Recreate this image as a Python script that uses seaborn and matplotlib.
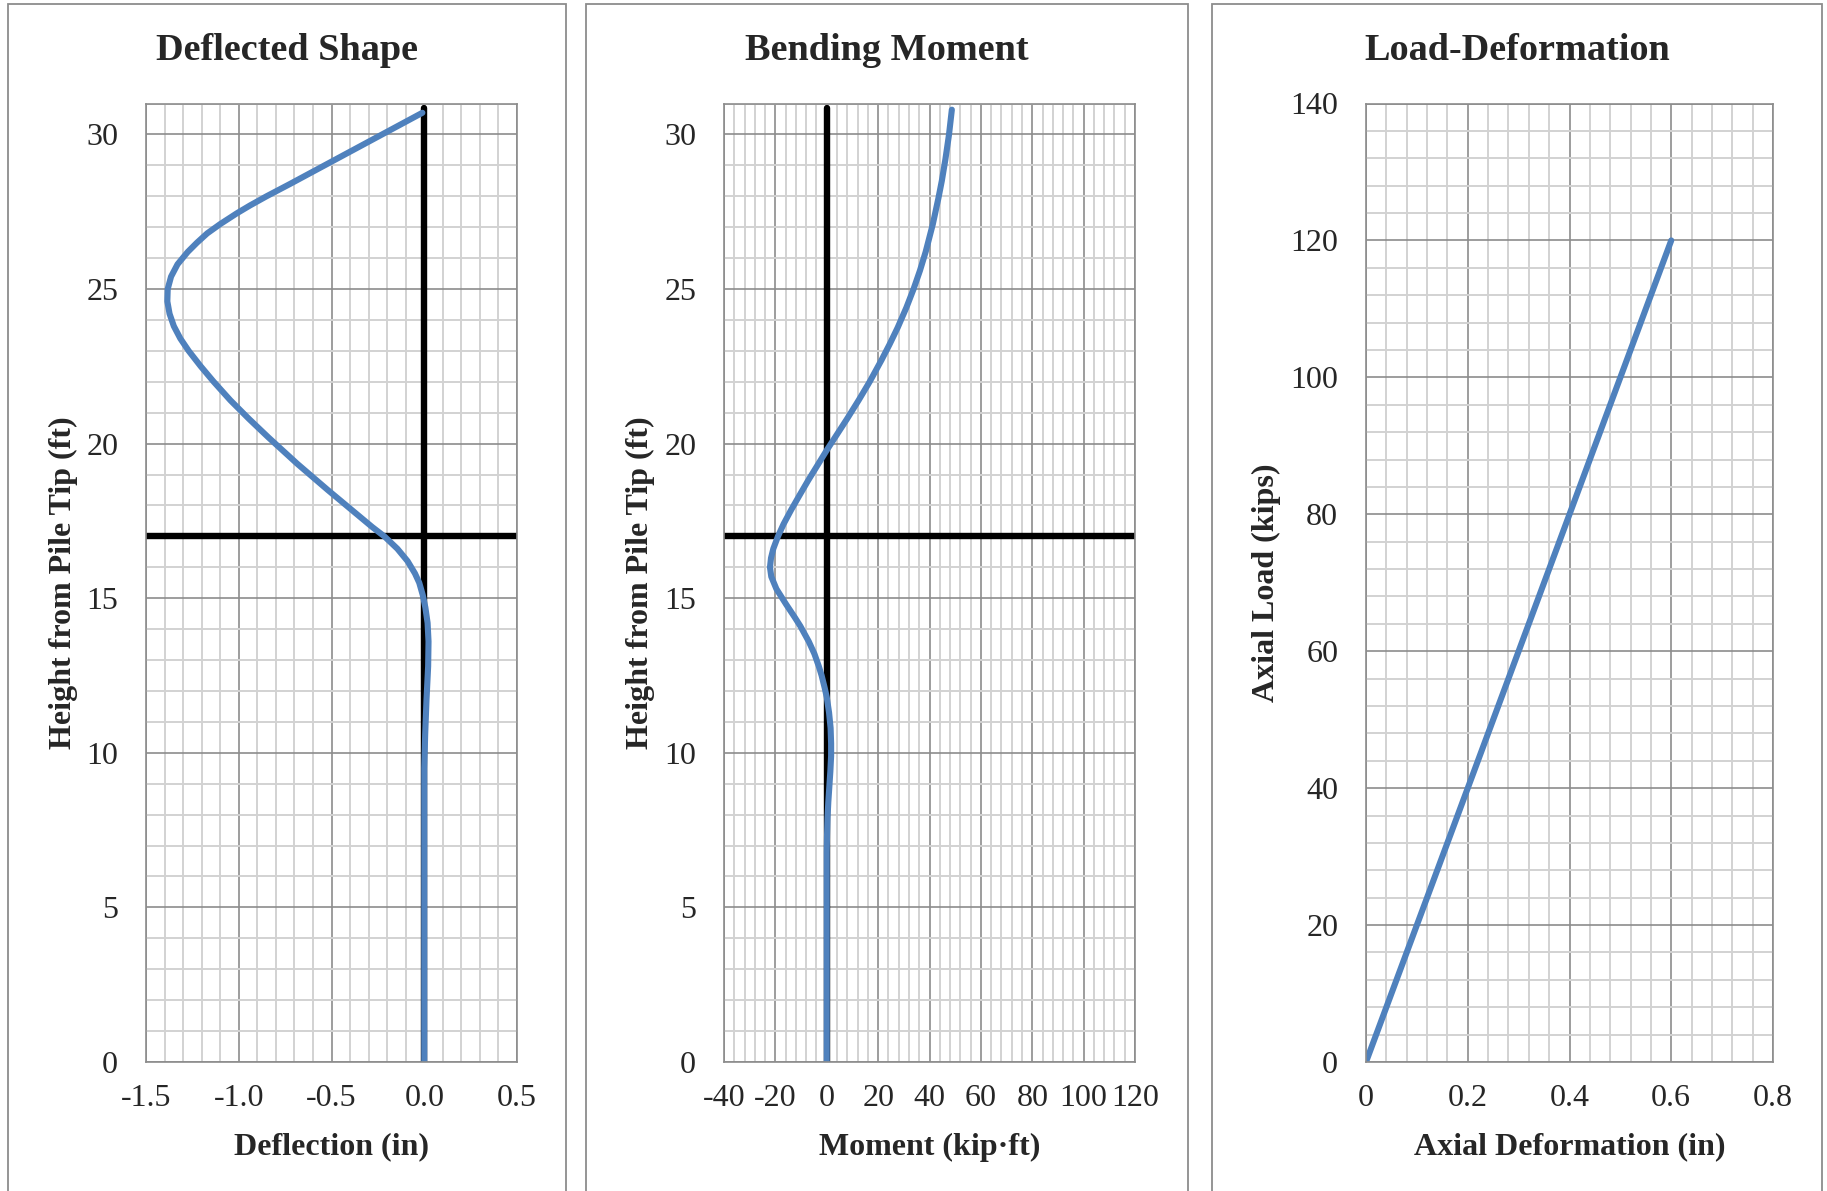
import matplotlib
matplotlib.use('Agg')
import matplotlib.pyplot as plt
from matplotlib.ticker import MultipleLocator, FuncFormatter
from matplotlib.patches import Rectangle
import seaborn as sns

# Deflected shape: height from pile tip (ft) vs deflection (in)
defl_height = [0, 2, 4, 6, 8, 9.5, 10.6, 11.7, 12.8, 13.6, 14.2, 14.7, 15.1, 15.5, 15.8,
               16.2, 16.6, 17.0, 17.3, 17.7, 18.5, 19.35, 20.2, 20.8, 21.4, 22.0, 22.5,
               23.0, 23.4, 23.8, 24.2, 24.6, 25.0, 25.4, 25.8, 26.2, 26.5, 26.8, 27.1,
               27.45, 27.7, 28.0, 28.4, 29.0, 29.6, 30.1, 30.4, 30.7]
deflection = [0, 0, 0, 0, 0, 0.0, 0.005, 0.012, 0.021, 0.023, 0.018, 0.006, -0.008, -0.027, -0.05,
              -0.09, -0.145, -0.215, -0.28, -0.36, -0.52, -0.685, -0.84, -0.945, -1.045, -1.135, -1.205,
              -1.27, -1.315, -1.35, -1.373, -1.385, -1.383, -1.365, -1.33, -1.275, -1.225, -1.17, -1.10,
              -1.01, -0.94, -0.85, -0.723, -0.537, -0.351, -0.196, -0.103, -0.01]

# Bending moment: height (ft) vs moment (kip-ft)
mom_height = [0, 3, 6, 6.8, 7.3, 7.9, 8.4, 8.9, 9.4, 9.9, 10.3, 10.8, 11.3, 11.8, 12.1,
              12.5, 12.8, 13.2, 13.6, 14.1, 14.4, 14.8, 15.3, 15.7, 16.0, 16.3, 16.6,
              17.0, 17.4, 17.85, 18.3, 18.8, 19.3, 19.8, 20.3, 20.8, 21.4, 22.0, 22.7,
              23.2, 23.75, 24.4, 25.0, 25.6, 26.2, 27.1, 27.95, 28.5, 29.2, 30.0, 30.8]
moment = [0, 0, 0, 0, 0.1, 0.3, 0.6, 1.0, 1.4, 1.7, 1.7, 1.5, 0.9, 0, -0.8,
          -2.0, -3.1, -4.8, -7.0, -10.3, -12.6, -15.8, -19.6, -21.6, -22.1, -21.7, -20.8,
          -19.0, -16.8, -13.9, -10.8, -7.3, -3.6, 0.1, 4.0, 7.9, 12.4, 16.7, 21.3,
          24.4, 27.6, 31.0, 33.8, 36.3, 38.5, 41.3, 43.5, 44.8, 46.2, 47.6, 48.7]

# Load-deformation
axial_def = [0, 0.6]
axial_load = [0, 120]

# reference lines: pile axis and ground line
pile_y = [0, 30.85]
pile_x = [0, 0]
ground_level = 17

sns.set_style('white')
plt.rcParams['font.family'] = ['Liberation Serif', 'DejaVu Serif']
plt.rcParams['axes.unicode_minus'] = False

BLUE = '#4F81BD'
W, H = 1827, 1191
fig = plt.figure(figsize=(W / 100, H / 100), dpi=100)

# chart area boxes (Excel style)
for x0, x1 in [(8, 566), (586, 1188), (1212, 1822)]:
    fig.patches.append(Rectangle((x0 / W, -0.05), (x1 - x0) / W, 1.05 - 4 / H,
                                 transform=fig.transFigure, fill=False,
                                 edgecolor='#8c8c8c', lw=1.3))

bot = 1 - 1062 / H
hgt = (1062 - 103.5) / H


def style_axis(ax, xmaj, ymaj):
    ax.xaxis.set_major_locator(MultipleLocator(xmaj))
    ax.xaxis.set_minor_locator(MultipleLocator(xmaj / 5))
    ax.yaxis.set_major_locator(MultipleLocator(ymaj))
    ax.yaxis.set_minor_locator(MultipleLocator(ymaj / 5))
    ax.grid(which='minor', color='#d2d2d2', lw=1.4)
    ax.grid(which='major', color='#8c8c8c', lw=1.2)
    ax.set_axisbelow(True)
    for s in ax.spines.values():
        s.set_color('#8c8c8c')
        s.set_linewidth(1.2)
    ax.tick_params(which='both', length=0, labelsize=23)
    ax.tick_params(axis='x', pad=16)
    ax.tick_params(axis='y', pad=20)


def labels(ax, title, title_x, xlabel, ylabel, ylab_x):
    fig.text(title_x / W, 1 - 50 / H, title, ha='center', va='center',
             fontsize=27.5, fontweight='bold')
    ax.set_xlabel(xlabel, fontsize=23, fontweight='bold')
    ax.set_ylabel(ylabel, fontsize=23, fontweight='bold')
    ax.xaxis.set_label_coords(0.5, -85 / 958.5)
    ax.xaxis.label.set_va('center')
    ax.yaxis.set_label_coords(ylab_x, 0.5)
    ax.yaxis.label.set_va('center')


LW = 4.4

# Panel 1: deflected shape
ax1 = fig.add_axes([146 / W, bot, (517 - 146) / W, hgt])
style_axis(ax1, 0.5, 5)
ax1.set_xlim(-1.5, 0.5)
ax1.set_ylim(0, 31)
ax1.xaxis.set_major_formatter(FuncFormatter(lambda v, p: f'{v:.1f}'))
ax1.axhline(ground_level, color='black', linewidth=4.6)
sns.lineplot(x=pile_x, y=pile_y, ax=ax1, color='black', linewidth=4.6, sort=False, estimator=None)
sns.lineplot(x=deflection, y=defl_height, ax=ax1, color=BLUE, linewidth=LW,
             sort=False, estimator=None, solid_capstyle='round', solid_joinstyle='round')
labels(ax1, 'Deflected Shape', 287, 'Deflection (in)', 'Height from Pile Tip (ft)', -83 / 371)

# Panel 2: bending moment
ax2 = fig.add_axes([724 / W, bot, 411 / W, hgt])
style_axis(ax2, 20, 5)
ax2.set_xlim(-40, 120)
ax2.set_ylim(0, 31)
ax2.axhline(ground_level, color='black', linewidth=4.6)
sns.lineplot(x=pile_x, y=pile_y, ax=ax2, color='black', linewidth=4.6, sort=False, estimator=None)
sns.lineplot(x=moment, y=mom_height, ax=ax2, color=BLUE, linewidth=LW,
             sort=False, estimator=None, solid_capstyle='round', solid_joinstyle='round')
labels(ax2, 'Bending Moment', 887, 'Moment (kip\u00b7ft)', 'Height from Pile Tip (ft)', -84 / 411)

# Panel 3: load-deformation
ax3 = fig.add_axes([1366 / W, bot, 407 / W, hgt])
style_axis(ax3, 0.2, 20)
ax3.set_xlim(0, 0.8)
ax3.set_ylim(0, 140)
ax3.xaxis.set_major_formatter(FuncFormatter(lambda v, p: '0' if abs(v) < 1e-9 else f'{v:.1f}'))
sns.lineplot(x=axial_def, y=axial_load, ax=ax3, color=BLUE, linewidth=LW,
             sort=False, estimator=None, solid_capstyle='round')
labels(ax3, 'Load-Deformation', 1517, 'Axial Deformation (in)', 'Axial Load (kips)', -99.5 / 407)

fig.savefig('out.png', dpi=100)
